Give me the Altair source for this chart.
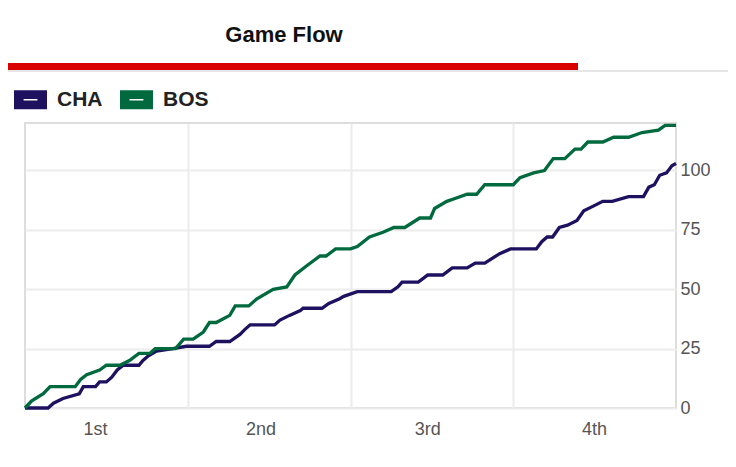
import altair as alt
import pandas as pd

# ---- data (game minute, cumulative score) ----
cha_time = [0, 1.7, 2.1, 2.8, 4.0, 4.3, 5.2, 5.5, 6.0, 6.4, 6.8, 7.25, 8.4, 8.7, 9.1, 9.7, 10.9, 11.9,
            13.6, 14.1, 15.1, 15.85, 16.2, 16.6, 18.4, 18.8, 19.5, 20.3, 20.5, 21.9, 22.4, 23.2, 23.5,
            24.5, 27.0, 27.5, 27.8, 29.0, 29.7, 30.8, 31.5, 32.6, 33.2, 33.9, 35.0, 35.8, 37.7, 38.1,
            38.5, 38.9, 39.4, 40.0, 40.7, 41.2, 41.9, 42.6, 43.3, 44.5, 45.6, 46.0, 46.4, 46.8, 47.3,
            47.7, 48.0]
cha_score = [0, 0, 2, 4, 6, 9, 9, 11, 11, 13, 16, 18, 18, 20, 22, 24, 25, 26,
             26, 28, 28, 31, 33, 35, 35, 37, 39, 41, 42, 42, 44, 46, 47,
             49, 49, 51, 53, 53, 56, 56, 59, 59, 61, 61, 65, 67, 67, 70,
             72, 72, 76, 77, 79, 83, 85, 87, 87, 89, 89, 93, 94, 98, 99,
             102, 103]
bos_time = [0, 0.5, 1.35, 1.85, 3.7, 4.1, 4.55, 5.5, 6.0, 7.0, 7.7, 8.4, 9.2, 9.6, 11.1, 11.7, 12.4,
            13.15, 13.6, 14.1, 15.1, 15.5, 16.5, 17.1, 18.3, 19.3, 19.9, 20.8, 21.75, 22.2, 22.9, 24.0,
            24.5, 25.4, 26.4, 27.2, 28.0, 29.1, 29.9, 30.2, 31.1, 31.6, 32.6, 33.3, 33.9, 36.0, 36.5,
            37.5, 38.3, 38.95, 39.8, 40.55, 41.0, 41.5, 42.6, 43.4, 44.5, 45.5, 46.7, 47.2, 48.0]
bos_score = [0, 3, 6, 9, 9, 12, 14, 16, 18, 18, 20, 23, 23, 25, 25, 29, 29,
             32, 36, 36, 39, 43, 43, 46, 50, 51, 56, 60, 64, 64, 67, 67,
             68, 72, 74, 76, 76, 80, 80, 84, 87, 88, 90, 90, 94, 94, 97,
             99, 100, 105, 105, 109, 109, 112, 112, 114, 114, 116, 117, 119, 119]

teams = ["CHA", "BOS"]
team_colors = ["#1d1160", "#00693e"]
quarter_labels = ["1st", "2nd", "3rd", "4th"]
quarter_label_pos = [5.2, 17.4, 29.7, 42.0]
quarter_breaks = [12, 24, 36]
y_ticks = [0, 25, 50, 75, 100]

df = pd.concat([
    pd.DataFrame({"team": "CHA", "t": cha_time, "score": cha_score}),
    pd.DataFrame({"team": "BOS", "t": bos_time, "score": bos_score}),
])
qdf = pd.DataFrame({"t": quarter_label_pos, "label": quarter_labels})

W, H = 651, 285
FONT = "Liberation Sans"

xscale = alt.Scale(domain=[0, 48], nice=False, zero=False)
yscale = alt.Scale(domain=[0, 120], nice=False)
# same mapping, listed in reverse so the line scale is not merged with the legend scale
line_scale = alt.Scale(domain=teams[::-1], range=team_colors[::-1])
legend_scale = alt.Scale(domain=teams, range=team_colors)

legend_path = ("M-1,-0.58 L1,-0.58 L1,0.58 L-1,0.58 Z "
               "M-0.42,-0.045 L-0.42,0.045 L0.42,0.045 L0.42,-0.045 Z")

lines = alt.Chart(df).mark_line(strokeWidth=3.3, interpolate="linear").encode(
    x=alt.X("t:Q", scale=xscale,
            axis=alt.Axis(values=quarter_breaks, labels=False, ticks=False, domain=False,
                          grid=True, gridColor="#ececec", gridWidth=2, title=None)),
    y=alt.Y("score:Q", scale=yscale,
            axis=alt.Axis(orient="right", values=y_ticks, ticks=False, domain=False, grid=True,
                          gridColor="#ececec", gridWidth=2, labelFontSize=18, labelColor="#555555",
                          labelFont=FONT, labelPadding=4, title=None)),
    stroke=alt.Stroke("team:N", scale=line_scale, legend=None),
    detail="team:N",
    order="t:Q",
)

# legend carrier: filled symbols, invisible marks
legend_layer = alt.Chart(df).mark_point(filled=True, opacity=0, size=1).encode(
    x=alt.X("t:Q", scale=xscale),
    y=alt.Y("score:Q", scale=yscale),
    fill=alt.Fill("team:N", scale=legend_scale,
                  legend=alt.Legend(title=None, orient="none", legendX=-11, legendY=-40,
                                    direction="horizontal", padding=0,
                                    symbolType=legend_path, symbolSize=1089,
                                    symbolStrokeWidth=0, symbolOpacity=1,
                                    labelOffset=10, columnPadding=17,
                                    labelFontSize=21, labelFontWeight="bold", labelFont=FONT,
                                    labelColor="#222222")),
)

qlabels = alt.Chart(qdf).mark_text(fontSize=18, font=FONT, color="#555555",
                                   align="center", baseline="alphabetic").encode(
    x=alt.X("t:Q", scale=xscale),
    y=alt.value(H + 27),
    text="label:N",
)

deco = pd.DataFrame({"k": [0]})
gray_line = alt.Chart(deco).mark_rule(color="#e6e6e6", strokeWidth=2).encode(
    x=alt.value(-17), x2=alt.value(703), y=alt.value(-52))
red_bar = alt.Chart(deco).mark_rule(color="#d90000", strokeWidth=7).encode(
    x=alt.value(-17), x2=alt.value(553), y=alt.value(-56.5))
title = alt.Chart(pd.DataFrame({"txt": ["Game Flow"]})).mark_text(
    fontSize=22, fontWeight="bold", font=FONT, color="#111111",
    align="center", baseline="alphabetic").encode(
    x=alt.value(259), y=alt.value(-81.5), text="txt:N")

chart = alt.layer(gray_line, red_bar, title, lines, legend_layer, qlabels).properties(
    width=W, height=H,
    autosize=alt.AutoSizeParams(type="none"),
    padding={"left": 17, "top": 115, "right": 52, "bottom": 40},
).configure_view(stroke="#dddddd", strokeWidth=2)

chart.save("out.html", embed_options={"renderer": "svg", "actions": False})
